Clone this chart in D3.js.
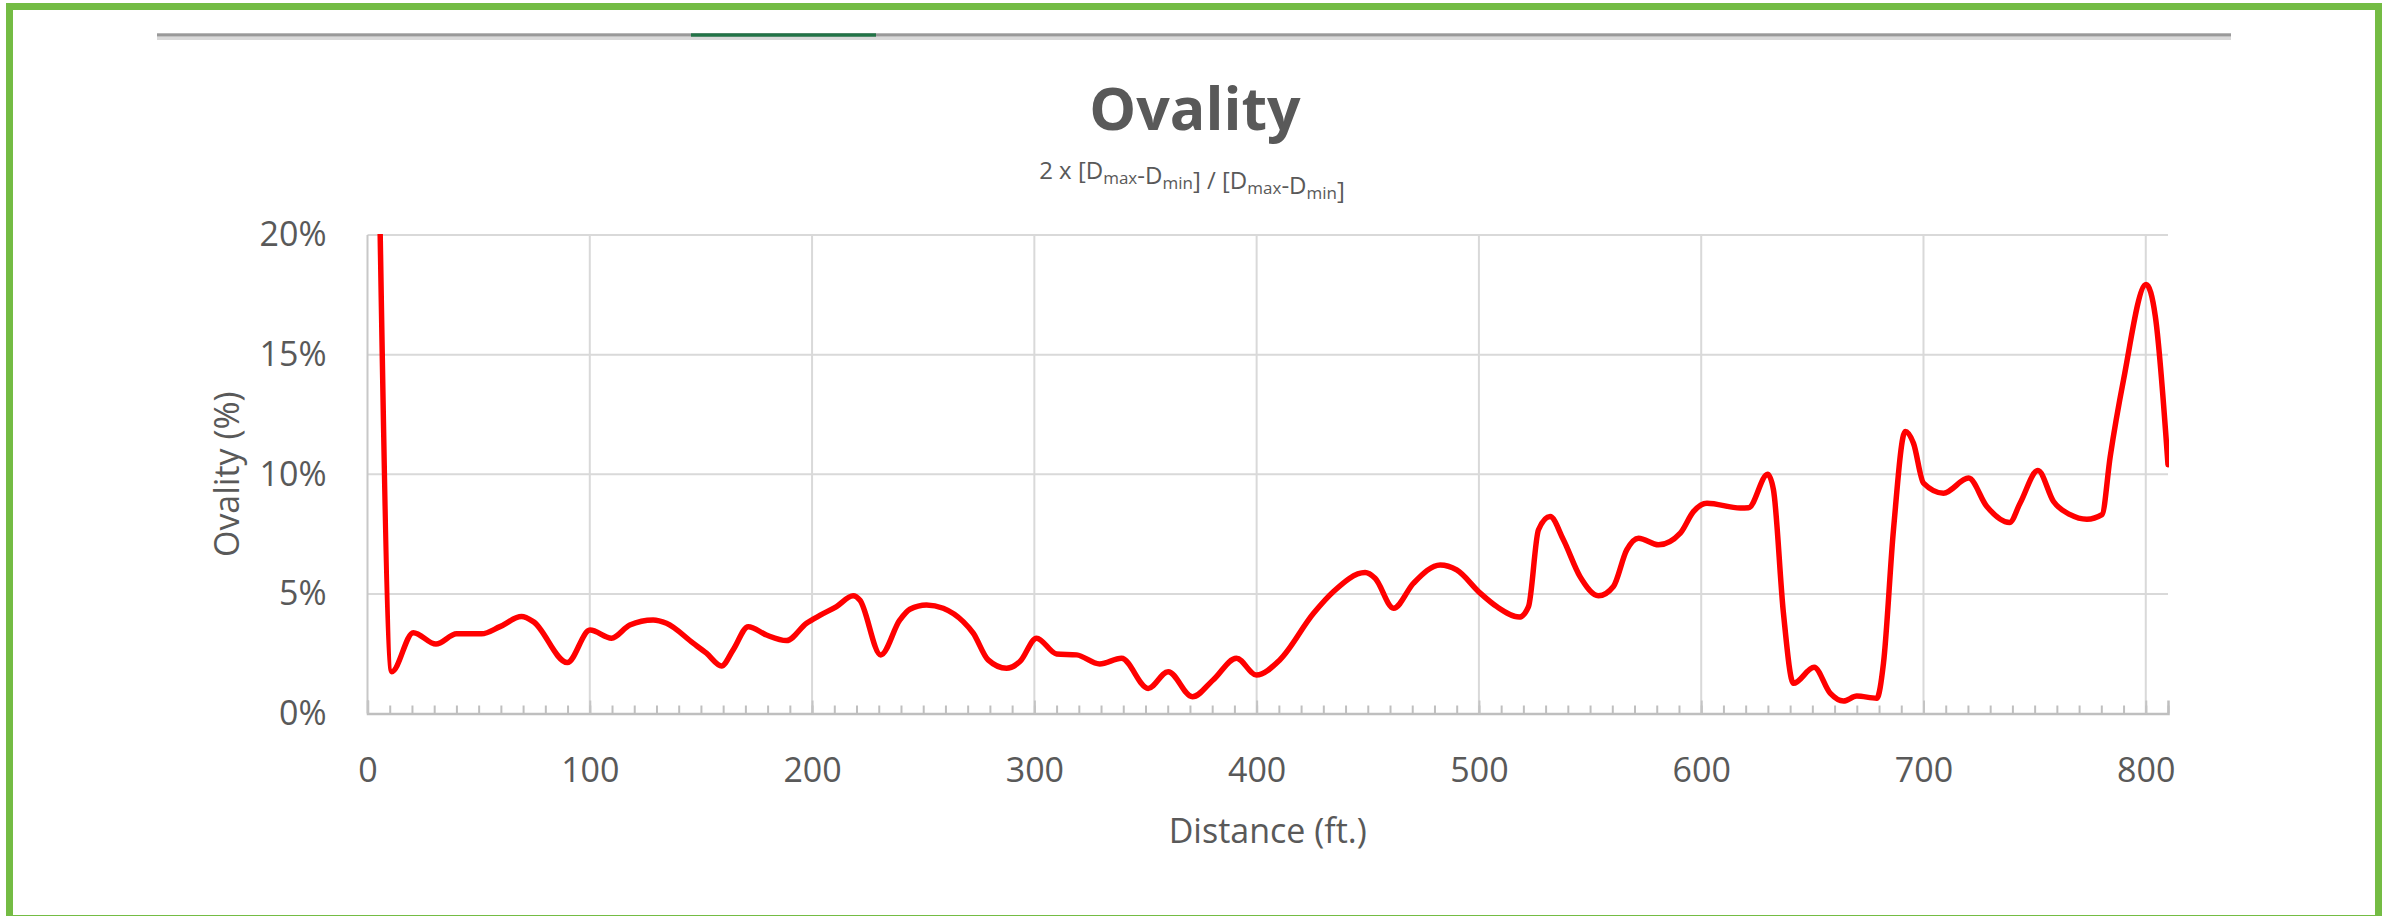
<!DOCTYPE html>
<html>
<head>
<meta charset="utf-8">
<script src="https://cdn.jsdelivr.net/npm/d3@7"></script>
<style>
  html, body { margin: 0; padding: 0; background: #ffffff; }
  svg { display: block; }
  text { font-family: "Open Sans", "Noto Sans", sans-serif; }
</style>
</head>
<body>
<svg id="chart" width="2384" height="916"></svg>
<script>
// ---------- data ----------
const chartTitle = "Ovality";
const xAxisTitle = "Distance (ft.)";
const yAxisTitle = "Ovality (%)";
const xTicks = [0, 100, 200, 300, 400, 500, 600, 700, 800];
const yTicks = [0, 5, 10, 15, 20];
const yTickLabels = ["0%", "5%", "10%", "15%", "20%"];
const xMax = 810;
const yMax = 20;

const distance = [5, 10.9, 20.6, 30.8, 40.1, 51.3, 59.6, 69.3, 74.6, 89.9,
  100.1, 109.8, 118, 128.5, 134.5, 146.5, 152.5, 159.3, 164.5, 171.3,
  179.5, 188.5, 197.5, 203.5, 211, 218.5, 221.5, 230.9, 239.5, 244,
  251.5, 259, 268, 272.5, 279.2, 287.5, 293.5, 301, 310, 319,
  329.4, 339.2, 351.2, 360.2, 371.1, 380.4, 390.9, 399.9, 410.5, 425.6,
  434.6, 448.8, 453.3, 461.6, 470.6, 482.6, 490, 500.6, 508, 518.2,
  522.3, 526.8, 532, 538, 545.5, 553.8, 560.5, 566.5, 571.8, 580.8,
  590.6, 596.5, 602.6, 617.6, 621.3, 629.9, 632.5, 637, 641.5, 650.8,
  658, 664, 670, 679, 682, 686.5, 691.8, 695.5, 700, 709,
  720.3, 728.5, 738.7, 743.5, 751.5, 758.5, 766, 773.5, 780.3, 784,
  790, 800.2, 804.3, 810];

const ovality = [24, 1.75, 3.38, 2.9, 3.33, 3.33, 3.63, 4.05, 3.84, 2.13,
  3.49, 3.15, 3.70, 3.91, 3.77, 2.94, 2.52, 1.99, 2.66, 3.63,
  3.28, 3.05, 3.77, 4.10, 4.47, 4.92, 4.74, 2.45, 3.91, 4.36,
  4.54, 4.40, 3.84, 3.36, 2.24, 1.89, 2.17, 3.15, 2.49, 2.45,
  2.07, 2.31, 1.05, 1.75, 0.70, 1.40, 2.31, 1.61, 2.25, 4.19,
  5.10, 5.89, 5.65, 4.40, 5.45, 6.21, 6.0, 5.03, 4.47, 4.03,
  4.47, 7.68, 8.23, 7.26, 5.72, 4.92, 5.31, 6.84, 7.33, 7.05,
  7.54, 8.44, 8.79, 8.59, 8.6, 10.0, 9.35, 4.19, 1.26, 1.93,
  0.85, 0.52, 0.73, 0.64, 2.1, 7.68, 11.79, 11.3, 9.63, 9.21,
  9.84, 8.65, 7.98, 8.8, 10.16, 8.86, 8.31, 8.12, 8.31, 10.74,
  13.95, 17.93, 16.6, 10.40];

// ---------- layout ----------
const W = 2384, H = 916;
const plot = { left: 367.5, right: 2168, top: 235, bottom: 713.5 };
const textColor = "#595959";

const svg = d3.select("#chart");

// outer green frame
svg.append("rect")
  .attr("x", 9.5).attr("y", 6.5)
  .attr("width", 2369).attr("height", 912)
  .attr("fill", "none").attr("stroke", "#74bc44").attr("stroke-width", 7);

// top decorative rule
svg.append("rect").attr("x", 157).attr("y", 33.3).attr("width", 2074).attr("height", 3.4).attr("fill", "#999999");
svg.append("rect").attr("x", 157).attr("y", 36.7).attr("width", 2074).attr("height", 3.3).attr("fill", "#d9d9d9");
svg.append("rect").attr("x", 691).attr("y", 33.3).attr("width", 185).attr("height", 3.4).attr("fill", "#217346");

// scales
const x = d3.scaleLinear().domain([0, xMax]).range([plot.left, plot.right]);
const y = d3.scaleLinear().domain([0, yMax]).range([plot.bottom, plot.top]);

// horizontal gridlines
svg.append("g").attr("class", "ygrid")
  .selectAll("line").data(yTicks.filter(v => v > 0)).join("line")
  .attr("x1", plot.left).attr("x2", plot.right)
  .attr("y1", d => y(d)).attr("y2", d => y(d))
  .attr("stroke", "#d9d9d9").attr("stroke-width", 2);

// vertical gridlines
svg.append("g").attr("class", "xgrid")
  .selectAll("line").data(xTicks).join("line")
  .attr("x1", d => x(d)).attr("x2", d => x(d))
  .attr("y1", plot.top).attr("y2", plot.bottom)
  .attr("stroke", d => d === 0 ? "#c8c8c8" : "#d9d9d9").attr("stroke-width", 2);

// minor ticks (every 10 ft) drawn with an axis
const minorTicks = d3.range(10, xMax + 1, 10);
const minorAxis = d3.axisBottom(x).tickValues(minorTicks).tickSize(-8).tickFormat("");
const gMinor = svg.append("g").attr("transform", `translate(0,${plot.bottom})`).call(minorAxis);
gMinor.select(".domain").remove();
gMinor.selectAll("line").attr("stroke", "#bfbfbf").attr("stroke-width", 2);

// major x axis
const xAxis = d3.axisBottom(x).tickValues(xTicks).tickSize(-13).tickPadding(44).tickFormat(d3.format("d"));
const gx = svg.append("g").attr("transform", `translate(0,${plot.bottom})`).call(xAxis);
gx.select(".domain").attr("stroke", "#bfbfbf").attr("stroke-width", 2.5);
gx.selectAll(".tick line").attr("stroke", "#c4c4c4").attr("stroke-width", 2);
gx.selectAll(".tick text")
  .attr("fill", textColor).attr("font-size", 34)
  .attr("font-family", "'Open Sans', 'Noto Sans', sans-serif");

// y axis labels
const yAxis = d3.axisLeft(y).tickValues(yTicks).tickSize(0).tickPadding(41)
  .tickFormat((d, i) => yTickLabels[i]);
const gy = svg.append("g").attr("transform", `translate(${plot.left},0)`).call(yAxis);
gy.select(".domain").remove();
gy.selectAll(".tick text")
  .attr("fill", textColor).attr("font-size", 34)
  .attr("font-family", "'Open Sans', 'Noto Sans', sans-serif");

// clip
svg.append("clipPath").attr("id", "plotclip")
  .append("rect")
  .attr("x", plot.left).attr("y", plot.top - 1)
  .attr("width", plot.right - plot.left + 1).attr("height", plot.bottom - plot.top + 1);

// the series
const points = distance.map((d, i) => [d, ovality[i]]);
const line = d3.line()
  .x(p => x(p[0])).y(p => y(p[1]))
  .curve(d3.curveMonotoneX);
svg.append("path")
  .datum(points)
  .attr("clip-path", "url(#plotclip)")
  .attr("d", line)
  .attr("fill", "none")
  .attr("stroke", "#ff0000")
  .attr("stroke-width", 5.5)
  .attr("stroke-linejoin", "round")
  .attr("stroke-linecap", "round");

// axis titles
svg.append("text")
  .attr("x", (plot.left + plot.right) / 2).attr("y", 843)
  .attr("text-anchor", "middle")
  .attr("fill", textColor).attr("font-size", 34)
  .text(xAxisTitle);

svg.append("text")
  .attr("transform", `translate(239,${(plot.top + plot.bottom) / 2}) rotate(-90)`)
  .attr("text-anchor", "middle")
  .attr("fill", textColor).attr("font-size", 34)
  .text(yAxisTitle);

// chart title
svg.append("text")
  .attr("x", 1195).attr("y", 130)
  .attr("text-anchor", "middle")
  .attr("fill", textColor).attr("font-size", 59).attr("font-weight", "bold")
  .text(chartTitle);

// subtitle with subscripts
const sub = svg.append("text")
  .attr("x", 1192).attr("y", 179)
  .attr("text-anchor", "middle")
  .attr("fill", textColor).attr("font-size", 24);
const subParts = [
  ["2 x [D", false], ["max", true], ["-D", false], ["min", true], ["] / [D", false],
  ["max", true], ["-D", false], ["min", true], ["]", false]
];
subParts.forEach(([t, isSub]) => {
  sub.append("tspan")
    .attr("font-size", isSub ? 17 : 24)
    .attr("dy", isSub ? 5 : null)
    .text(t);
  if (isSub) sub.append("tspan").attr("dy", -5).text("");
});
</script>
</body>
</html>
